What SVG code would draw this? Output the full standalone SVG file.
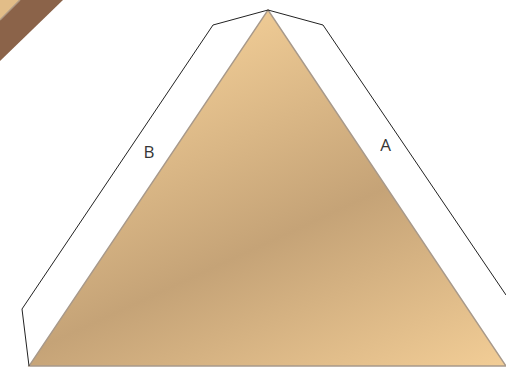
<svg xmlns="http://www.w3.org/2000/svg" width="506" height="369" viewBox="0 0 506 369">
<defs>
<linearGradient id="tri" gradientUnits="userSpaceOnUse" x1="149" y1="65" x2="326" y2="448">
<stop offset="0" stop-color="#eeca94"/>
<stop offset="0.5" stop-color="#c5a377"/>
<stop offset="1" stop-color="#f2cd96"/>
</linearGradient>
</defs>
<style>
.edge{fill:none;stroke:#222;stroke-width:1}
.lbl{font-family:"Open Sans","Noto Sans",sans-serif;font-size:17px;fill:#333;text-anchor:middle;opacity:0.99}
</style>
<rect width="506" height="369" fill="#fff"/>
<g id="corner">
<polygon points="0,0 63,0 0,61" fill="#8b6349"/>
<polygon points="0,0 20,0 0,20" fill="#e2bd88"/>
<line x1="20" y1="0" x2="0" y2="20" stroke="#b09a84" stroke-width="1.5"/>
</g>
<g id="triangle">
<polygon points="268,10 506,366 29,366" fill="url(#tri)" stroke="#a8998a" stroke-width="1.4"/>
</g>
<g id="connectors">
<polyline class="edge" points="29,366 22,309 213,25 268,10"/>
<polyline class="edge" points="268,10 323,25 506,295"/>
</g>
<g id="label-b"><text class="lbl" x="149" y="158">B</text></g>
<g id="label-a"><text class="lbl" x="385.5" y="151">A</text></g>
</svg>
